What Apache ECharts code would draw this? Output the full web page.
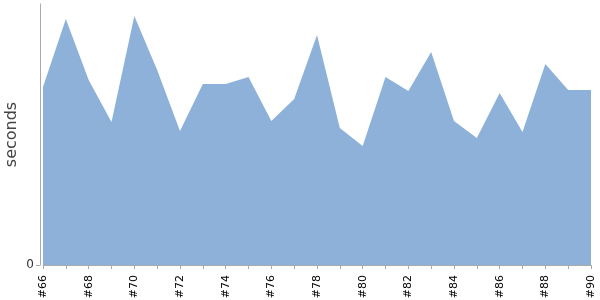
<!DOCTYPE html>
<html>
<head>
<meta charset="utf-8">
<script src="https://cdn.jsdelivr.net/npm/echarts@6/dist/echarts.min.js"></script>
<style>html,body{margin:0;padding:0;background:#fff}#c{width:600px;height:300px}</style>
</head>
<body>
<div id="c"></div>
<script>
var categories = ['#66','#67','#68','#69','#70','#71','#72','#73','#74','#75','#76','#77','#78','#79','#80','#81','#82','#83','#84','#85','#86','#87','#88','#89','#90'];
var seconds = [178,246,185,143,249,195,134,181,181,188,144,166,230,137,119,188,174,213,144,127,172,133,201,175,175];
var yTicks = [0];

var chart = echarts.init(document.getElementById('c'), null, {renderer:'canvas'});
chart.setOption({
  animation: false,
  grid: {left: 43, right: 9, top: 4, bottom: 35, containLabel: false, outerBoundsMode: 'none'},
  xAxis: {
    type: 'category',
    data: categories,
    boundaryGap: false,
    offset: 4,
    axisLine: {lineStyle: {color: '#aaa'}},
    axisTick: {show: true, interval: 0, length: 4, lineStyle: {color: '#aaa'}},
    axisLabel: {rotate: 90, interval: 1, color: '#000', fontSize: 11, fontFamily: 'DejaVu Sans', margin: 6}
  },
  yAxis: {
    type: 'value',
    min: 0,
    max: 261,
    offset: 3,
    name: 'seconds',
    nameLocation: 'middle',
    nameGap: 20,
    nameMoveOverlap: false,
    nameTextStyle: {fontSize: 16, color: '#444', fontFamily: 'DejaVu Sans'},
    axisLine: {show: true, lineStyle: {color: '#aaa'}},
    axisTick: {show: true, length: 4, customValues: yTicks, lineStyle: {color: '#aaa'}},
    splitLine: {show: false},
    axisLabel: {color: '#333', fontSize: 12, fontFamily: 'DejaVu Sans', margin: 6, customValues: yTicks}
  },
  series: [{
    type: 'line',
    data: seconds,
    showSymbol: false,
    lineStyle: {width: 0, color: '#8EB1DA'},
    itemStyle: {color: '#8EB1DA'},
    areaStyle: {color: '#8EB1DA', opacity: 1}
  }]
});
</script>
</body>
</html>
